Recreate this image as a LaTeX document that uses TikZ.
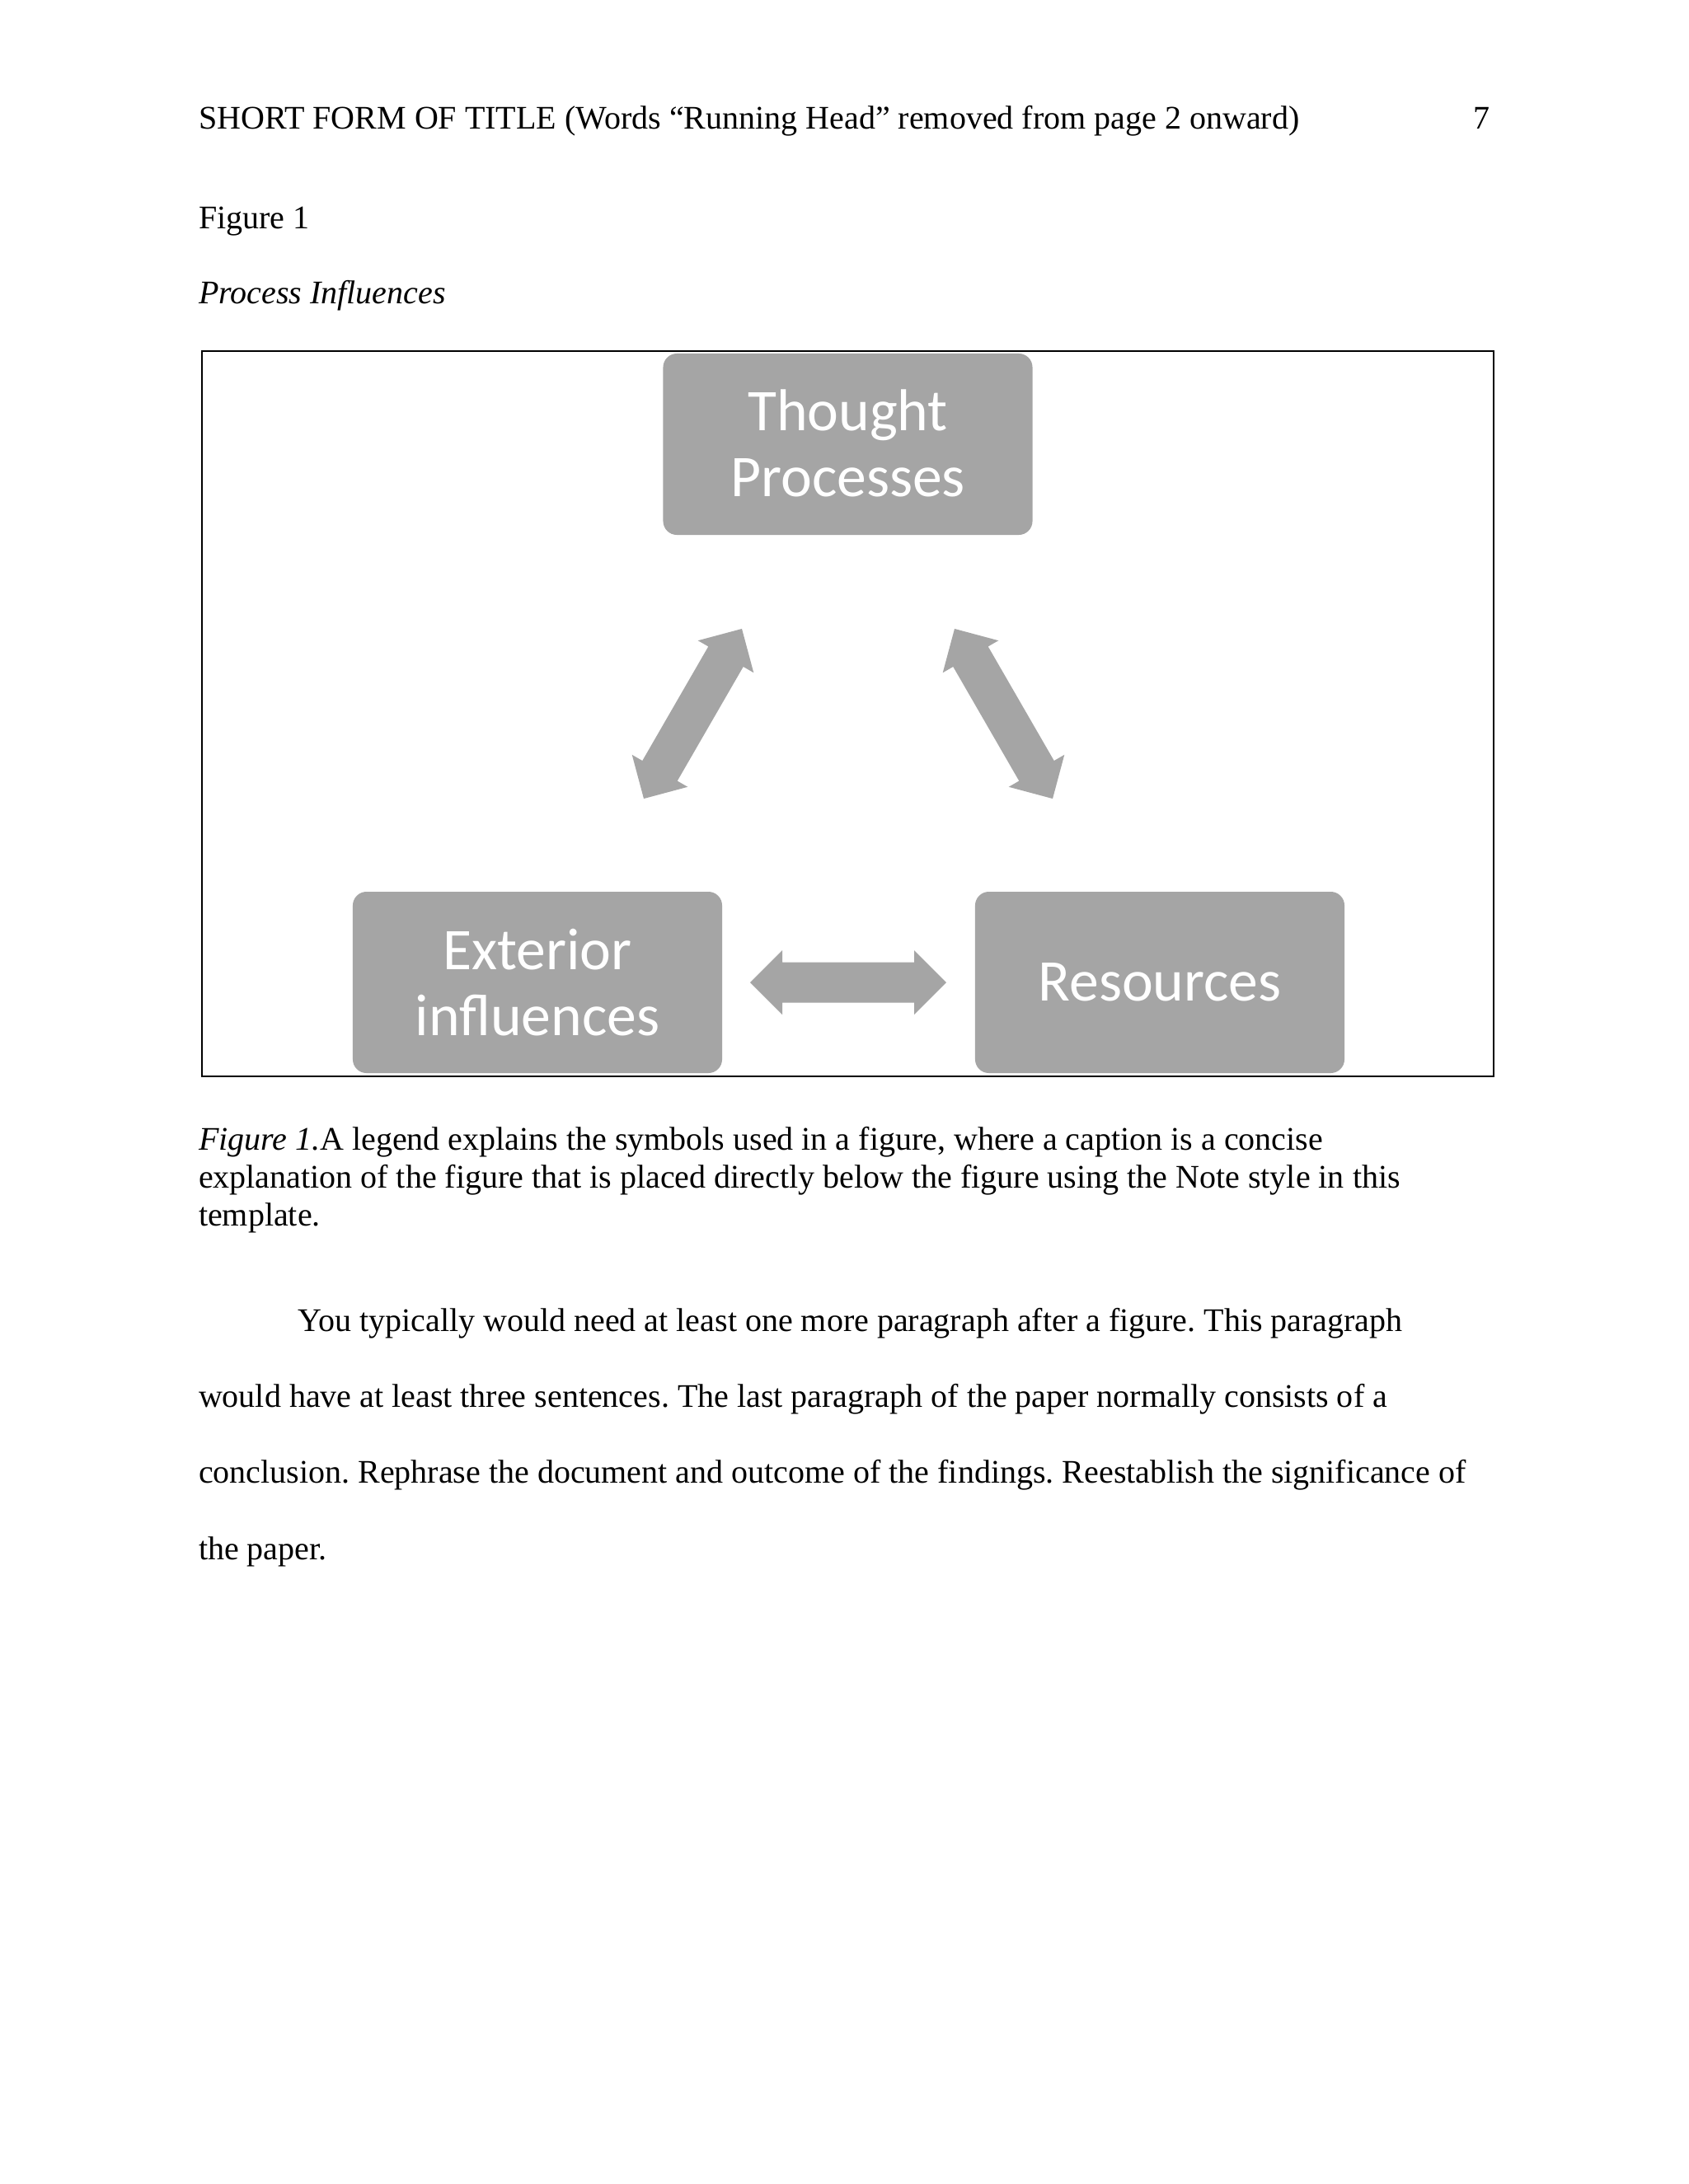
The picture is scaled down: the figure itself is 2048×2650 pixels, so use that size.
\documentclass[tikz,border=0pt]{standalone}
\usepackage{fontspec}
\setmainfont{Liberation Serif}
\newfontfamily\boxfont{Carlito}
\definecolor{smartgray}{HTML}{A5A5A5}
\frenchspacing
\begin{document}
\begin{tikzpicture}[x=0.29995pt,y=-0.29995pt,
  txt/.style={anchor=base west,inner sep=0pt,outer sep=0pt,font=\frenchspacing\fontsize{12}{13.8}\selectfont},
  stepbox/.style={fill=smartgray,draw=none,rounded corners=5pt,minimum width=134.4pt,minimum height=66pt,
     text=white,align=center,inner sep=0pt,font=\boxfont\fontsize{21.5}{24}\selectfont},
  dblarrow/.pic={\fill[smartgray] (-119,0) -- (-80,-39) -- (-80,-24.5) -- (80,-24.5) -- (80,-39) -- (119,0)
      -- (80,39) -- (80,24.5) -- (-80,24.5) -- (-80,39) -- cycle;}]
\useasboundingbox (0,0) rectangle (2048,2650);
\fill[white] (0,0) rectangle (2048,2650);
% running head
\node[txt] (head) at (241,156) {SHORT FORM OF TITLE (Words “Running Head” removed from page 2 onward)};
\node[txt,anchor=base east] (pagenum) at (1807,156) {7};
\node[txt] (fignum) at (241,277) {Figure 1};
\node[txt,font=\fontsize{12}{13.8}\selectfont\itshape] (figtitle) at (241,368) {Process Influences};
% frame
\coordinate (frameNW) at (245,426);
\coordinate (frameSE) at (1812,1306);
\draw[line width=0.8pt] (frameNW) rectangle (frameSE);
% boxes
\node[stepbox] (thought) at (1028.5,539) {\raisebox{1pt}{Thought}\\\raisebox{1pt}{Processes}};
\node[stepbox] (exterior) at (652,1192) {Exterior\\influences};
\node[stepbox] (resources) at (1407,1192) {Resources};
% arrows
\coordinate (arrL) at (840.5,866);
\coordinate (arrR) at (1217.5,866);
\coordinate (arrB) at (1029,1192);
\pic[rotate=60] at (arrL) {dblarrow};
\pic[rotate=-60] at (arrR) {dblarrow};
\pic at (arrB) {dblarrow};
% caption
\node[txt] (cap1) at (241,1395) {\textit{Figure 1.}A legend explains the symbols used in a figure, where a caption is a concise};
\node[txt] (cap2) at (241,1441) {explanation of the figure that is placed directly below the figure using the Note style in this};
\node[txt] (cap3) at (241,1487) {template.};
% paragraph
\node[txt] (par1) at (361.5,1615) {You typically would need at least one more paragraph after a figure. This paragraph};
\node[txt] (par2) at (241,1707) {would have at least three sentences. The last paragraph of the paper normally consists of a};
\node[txt] (par3) at (241,1799) {conclusion. Rephrase the document and outcome of the findings. Reestablish the significance of};
\node[txt] (par4) at (241,1892) {the paper.};
\end{tikzpicture}
\end{document}
